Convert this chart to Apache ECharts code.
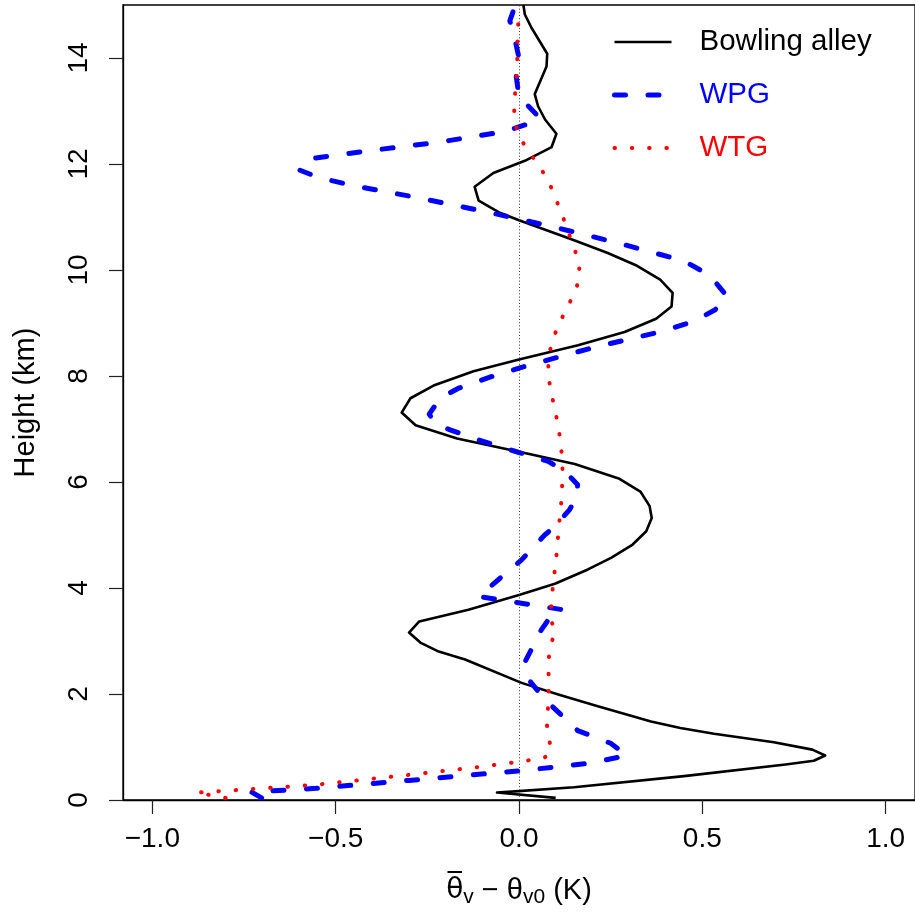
<!DOCTYPE html>
<html>
<head>
<meta charset="utf-8">
<script src="https://cdn.jsdelivr.net/npm/echarts@6/dist/echarts.min.js"></script>
<style>
html,body{margin:0;padding:0;background:#fff;}
#chart{width:915px;height:915px;}
</style>
</head>
<body>
<div id="chart"></div>
<script>
// ---- data ----
const xTicks = [-1.0, -0.5, 0.0, 0.5, 1.0];
const yTicks = [0, 2, 4, 6, 8, 10, 12, 14];
const seriesNames = ['Bowling alley', 'WPG', 'WTG'];

const bowlingTheta = [0.10,-0.06,0.15,0.45,0.727,0.804,0.835,0.80,0.695,0.532,0.44,0.36,0.215,0.107,0.007,-0.147,-0.219,-0.269,-0.30,-0.272,-0.138,0.0,0.098,0.188,0.251,0.31,0.347,0.362,0.356,0.331,0.274,0.152,0.0,-0.169,-0.282,-0.32,-0.296,-0.233,-0.124,0.0,0.161,0.288,0.374,0.416,0.419,0.385,0.322,0.242,0.143,0.0,-0.052,-0.11,-0.121,-0.07,0.016,0.089,0.102,0.071,0.052,0.043,0.075,0.077,0.034,0.016,0.012];
const bowlingHeight = [0.04,0.14,0.24,0.45,0.67,0.74,0.84,0.95,1.09,1.25,1.36,1.48,1.77,1.99,2.21,2.65,2.80,2.97,3.16,3.37,3.59,3.87,4.08,4.35,4.57,4.82,5.07,5.32,5.55,5.82,6.06,6.34,6.57,6.82,7.07,7.31,7.58,7.82,8.09,8.31,8.58,8.83,9.08,9.31,9.57,9.82,10.08,10.32,10.58,10.94,11.08,11.31,11.57,11.83,12.06,12.32,12.57,12.84,13.09,13.32,13.84,14.08,14.57,14.82,15.0];

const wpgTheta = [-0.702,-0.73,-0.554,-0.30,0.016,0.197,0.295,0.25,0.16,0.116,0.07,0.03,0.016,0.06,0.085,0.12,-0.11,0.007,0.07,0.098,0.138,0.158,0.16,0.125,0.08,-0.011,-0.10,-0.19,-0.225,-0.245,-0.215,-0.165,-0.062,0.03,0.21,0.39,0.48,0.535,0.568,0.52,0.45,0.27,0.09,-0.09,-0.273,-0.45,-0.545,-0.60,-0.57,-0.41,-0.22,-0.04,0.044,0.057,0.0,-0.01,0.0,-0.015,-0.025,-0.01];
const wpgHeight = [0.04,0.15,0.22,0.37,0.56,0.70,0.84,1.07,1.31,1.60,1.90,2.24,2.60,3.20,3.45,3.59,3.84,4.53,5.00,5.16,5.48,5.72,5.95,6.20,6.39,6.58,6.77,6.99,7.08,7.28,7.58,7.77,8.02,8.21,8.55,8.84,9.04,9.25,9.50,9.90,10.17,10.51,10.82,11.10,11.36,11.59,11.74,11.89,12.10,12.25,12.41,12.61,12.80,12.87,13.27,13.78,14.00,14.48,14.70,15.0];

const wtgTheta = [-0.80,-0.88,-0.74,-0.55,-0.32,-0.10,0.01,0.07,0.09,0.076,0.077,0.081,0.081,0.08,0.085,0.098,0.085,0.09,0.093,0.10,0.108,0.117,0.119,0.108,0.088,0.08,0.08,0.09,0.107,0.128,0.149,0.166,0.163,0.147,0.115,0.08,0.054,0.027,0.001,-0.013,-0.013,-0.005,-0.004,0.0];
const wtgHeight = [0.04,0.14,0.20,0.29,0.46,0.63,0.73,0.80,0.95,1.25,1.57,1.89,2.24,2.60,2.90,3.16,3.46,3.80,4.12,4.44,5.10,5.74,6.39,7.04,7.68,8.00,8.33,8.65,8.95,9.25,9.53,9.85,10.16,10.48,11.09,11.69,11.97,12.23,12.51,12.82,13.14,13.79,14.45,14.85];

const refLineX = [0];

// ---- build ----
function zip(xs, ys) { return xs.map((x, i) => [x, ys[i]]); }
const FONT = 'Liberation Sans, Arial, Helvetica, sans-serif';
const fmtX = v => (v < 0 ? '\u2212' : '') + Math.abs(v).toFixed(1);

const styleBlack = {color: '#000', width: 2.6, type: 'solid', join: 'round'};
const styleBlue = {color: '#0000ff', width: 5, type: [11, 22.5], cap: 'round', join: 'round'};
const styleRed = {color: '#ff0000', width: 4, type: [0.5, 16.8], cap: 'round', join: 'round'};

const chart = echarts.init(document.getElementById('chart'), null, {renderer: 'canvas'});
chart.setOption({
  animation: false,
  backgroundColor: '#fff',
  textStyle: {fontFamily: FONT},
  grid: {left: 123, top: 5, width: 795.5, height: 795, show: true, borderColor: '#000', borderWidth: 1.3, backgroundColor: 'transparent'},
  legend: {
    orient: 'vertical', left: 612, top: 27, padding: 0,
    itemWidth: 57, itemHeight: 14, itemGap: 23,
    itemStyle: {opacity: 0, borderWidth: 0},
    textStyle: {fontSize: 29.5, fontFamily: FONT, lineHeight: 30, padding: [0, 0, 0, 23]},
    data: [
      {name: seriesNames[0], textStyle: {color: '#000'}, lineStyle: styleBlack},
      {name: seriesNames[1], textStyle: {color: '#0000ff'}, lineStyle: styleBlue},
      {name: seriesNames[2], textStyle: {color: '#ff0000'}, lineStyle: styleRed}
    ]
  },
  xAxis: {
    type: 'value', min: -1.08, max: 1.08,
    axisLine: {show: true, onZero: false, lineStyle: {color: '#000', width: 1.3}},
    axisTick: {show: true, length: 14, customValues: xTicks, lineStyle: {color: '#222', width: 1.2}},
    axisLabel: {customValues: xTicks, formatter: fmtX, fontSize: 28, color: '#000', margin: 25, fontFamily: FONT},
    splitLine: {show: false},
    name: '{o|\u03B8\u0305}{s|v}{t| \u2212 \u03B8}{s|v0}{t| (K)}',
    nameLocation: 'middle', nameGap: 74,
    nameTextStyle: {
      fontFamily: FONT,
      rich: {
        o: {fontSize: 28, color: '#000', lineHeight: 34, fontFamily: 'DejaVu Sans'},
        t: {fontSize: 29, color: '#000', lineHeight: 34, fontFamily: FONT},
        s: {fontSize: 21, color: '#000', lineHeight: 22, verticalAlign: 'bottom', fontFamily: FONT}
      }
    }
  },
  yAxis: {
    type: 'value', min: 0, max: 15,
    axisLine: {show: true, onZero: false, lineStyle: {color: '#000', width: 1.3}},
    axisTick: {show: true, length: 14, customValues: yTicks, lineStyle: {color: '#222', width: 1.2}},
    axisLabel: {customValues: yTicks, rotate: 90, fontSize: 28, color: '#000', margin: 30, fontFamily: FONT},
    splitLine: {show: false},
    name: 'Height (km)', nameLocation: 'middle', nameGap: 83, nameRotate: 90,
    nameTextStyle: {fontSize: 29, color: '#000', fontFamily: FONT}
  },
  series: [
    {
      name: seriesNames[0], type: 'line', data: zip(bowlingTheta, bowlingHeight),
      symbol: 'none', color: '#000',
      lineStyle: styleBlack,
      markLine: {
        silent: true, symbol: 'none', label: {show: false},
        lineStyle: {color: '#333', width: 1, type: [1, 2.2]},
        data: refLineX.map(v => ({xAxis: v}))
      },
      z: 2
    },
    {
      name: seriesNames[1], type: 'line', data: zip(wpgTheta, wpgHeight),
      symbol: 'none', color: '#0000ff',
      lineStyle: styleBlue,
      z: 3
    },
    {
      name: seriesNames[2], type: 'line', data: zip(wtgTheta, wtgHeight),
      symbol: 'none', color: '#ff0000',
      lineStyle: styleRed,
      z: 4
    }
  ]
});
</script>
</body>
</html>
